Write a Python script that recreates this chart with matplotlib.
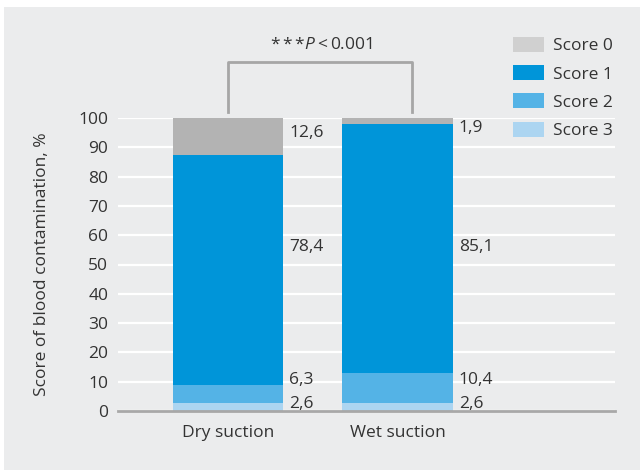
import numpy as np
import matplotlib.pyplot as plt
from matplotlib.patches import Rectangle

plt.rcParams['font.family'] = ['Open Sans', 'DejaVu Sans']
plt.rcParams['mathtext.fontset'] = 'custom'
plt.rcParams['mathtext.it'] = 'Open Sans:italic'
plt.rcParams['mathtext.rm'] = 'Open Sans'

# data to plot
groups = ['Dry suction', 'Wet suction']
score_names = ['Score 0', 'Score 1', 'Score 2', 'Score 3']
score3 = [2.6, 2.6]
score2 = [6.3, 10.4]
score1 = [78.4, 85.1]
score0 = [12.6, 1.9]

colors = {'Score 0': '#b3b3b3', 'Score 1': '#0095d9',
          'Score 2': '#54b3e6', 'Score 3': '#acd5f1'}
text_color = '#333333'
bg = '#ebeced'
fs = 12.5

fig = plt.figure(figsize=(6.4, 4.7), dpi=100, facecolor='white')
fig.patches.append(Rectangle((4 / 640, 0), 1, 1 - 7 / 470, transform=fig.transFigure,
                             facecolor=bg, edgecolor='none', zorder=-10))
ax = fig.add_axes([118 / 640, 1 - 411 / 470, (615 - 118) / 640, (411 - 118) / 470])
ax.set_facecolor('none')

index = np.arange(len(groups))
bar_width = 0.652

# stack from the bottom: score 3, 2, 1, 0
bottom = np.zeros(len(groups))
bars = {}
for name, vals in [('Score 3', score3), ('Score 2', score2),
                   ('Score 1', score1), ('Score 0', score0)]:
    bars[name] = ax.bar(index, vals, bar_width, bottom=bottom,
                        color=colors[name], label=name, zorder=3)
    bottom = bottom + np.array(vals)

# value labels beside each bar
label_y = {'Score 0': [94.8, 96.6], 'Score 1': [56, 56],
           'Score 2': [10.6, 10.6], 'Score 3': [2.4, 2.4]}
series = {'Score 0': score0, 'Score 1': score1, 'Score 2': score2, 'Score 3': score3}
for name in score_names:
    for i in index:
        ax.text(i + bar_width / 2 + 0.035, label_y[name][i],
                f'{series[name][i]:.1f}'.replace('.', ','),
                ha='left', va='center', fontsize=fs, color=text_color)

ax.set_xlim(-0.649, 2.283)
ax.set_ylim(0, 100)
ax.set_yticks(np.arange(0, 101, 10))
ax.set_xticks(index)
ax.set_xticklabels(groups)
ax.tick_params(axis='both', length=0, labelsize=fs, labelcolor=text_color)
ax.tick_params(axis='y', pad=7)
ax.tick_params(axis='x', pad=10)
ax.set_ylabel('Score of blood contamination, %', fontsize=fs, color=text_color, labelpad=20)

ax.yaxis.grid(True, color='white', linewidth=1.6, zorder=0)
ax.set_axisbelow(True)
for side in ['left', 'right', 'top']:
    ax.spines[side].set_visible(False)
ax.spines['bottom'].set_color('#a8a8a8')
ax.spines['bottom'].set_linewidth(2)
ax.spines['bottom'].set_zorder(4)

# significance bracket
ax.plot([0, 0, 1.085, 1.085], [102, 119, 119, 102], color='#a6a6a6',
        linewidth=2, clip_on=False, zorder=2)
ax.text(0.55, 124.8, '*\u2009*\u2009*$P$\u2009<\u20090.001',
        ha='center', va='center', fontsize=fs, color=text_color)

# legend in the reversed order (score 0 at the top)
handles = [bars[n] for n in score_names]
leg = ax.legend(handles, score_names, loc='upper left', frameon=False,
                bbox_to_anchor=(513 / 640, 1 - 37 / 470), bbox_transform=fig.transFigure,
                fontsize=fs, handlelength=1.8, handleheight=0.95,
                handletextpad=0.5, labelspacing=0.62, borderpad=0, borderaxespad=0)
leg.legend_handles[0].set_facecolor('#d0d0d0')
for t in leg.get_texts():
    t.set_color(text_color)

plt.savefig('out.png', dpi=100, facecolor=fig.get_facecolor())
